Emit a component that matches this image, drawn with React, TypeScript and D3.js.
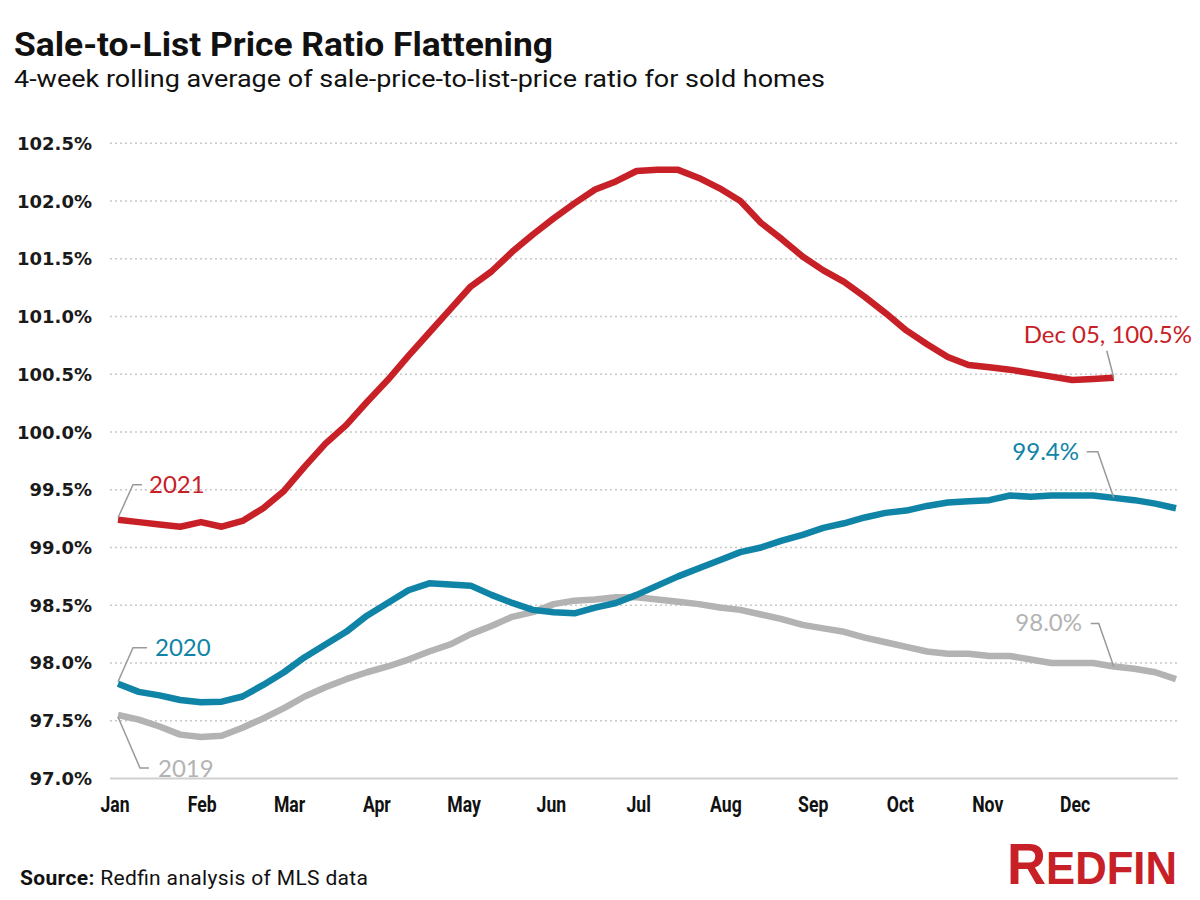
import React from "react";
import * as d3 from "d3";

const W = 1200;
const H = 900;

const startDate = new Date(2021, 0, 3);
const values2021 = [
  99.24, 99.22, 99.2, 99.18, 99.22, 99.18, 99.23, 99.34, 99.49, 99.7, 99.9, 100.06, 100.26,
  100.45, 100.66, 100.86, 101.06, 101.26, 101.39, 101.56, 101.71, 101.85, 101.98, 102.1, 102.17,
  102.26, 102.27, 102.27, 102.2, 102.11, 102.0, 101.81, 101.67, 101.52, 101.4, 101.3, 101.17,
  101.03, 100.88, 100.76, 100.65, 100.58, 100.56, 100.54, 100.51, 100.48, 100.45, 100.46, 100.47,
];
const values2020 = [
  97.82, 97.75, 97.72, 97.68, 97.66, 97.665, 97.71, 97.81, 97.92, 98.05, 98.16, 98.27, 98.41,
  98.52, 98.63, 98.69, 98.68, 98.67, 98.59, 98.52, 98.46, 98.44, 98.43, 98.48, 98.52, 98.59,
  98.67, 98.75, 98.82, 98.89, 98.96, 99.0, 99.06, 99.11, 99.17, 99.21, 99.26, 99.3, 99.32, 99.36,
  99.39, 99.4, 99.41, 99.45, 99.44, 99.45, 99.45, 99.45, 99.43, 99.41, 99.38, 99.34,
];
const values2019 = [
  97.55, 97.51, 97.45, 97.38, 97.36, 97.37, 97.44, 97.52, 97.61, 97.71, 97.79, 97.86, 97.92,
  97.97, 98.03, 98.1, 98.16, 98.25, 98.32, 98.4, 98.44, 98.51, 98.54, 98.55, 98.57, 98.57, 98.55,
  98.53, 98.51, 98.48, 98.46, 98.42, 98.38, 98.33, 98.3, 98.27, 98.22, 98.18, 98.14, 98.1, 98.08,
  98.08, 98.06, 98.06, 98.03, 98.0, 98.0, 98.0, 97.97, 97.95, 97.92, 97.86,
];
const yTicks = [97.0, 97.5, 98.0, 98.5, 99.0, 99.5, 100.0, 100.5, 101.0, 101.5, 102.0, 102.5];
const monthLabels = ["Jan", "Feb", "Mar", "Apr", "May", "Jun", "Jul", "Aug", "Sep", "Oct", "Nov", "Dec"];
const seriesNames = ["2019", "2020", "2021"];
const colors = { "2019": "#b3b3b3", "2020": "#0f84a6", "2021": "#c82027" };

const dateOf = (i: number) => d3.timeDay.offset(startDate, i * 7);

export default function App() {
  const x = d3
    .scaleTime()
    .domain([dateOf(0), dateOf(51)])
    .range([118, 1176]);
  const y = d3.scaleLinear().domain([97, 102.5]).range([778.5, 143.3]);
  const xm = d3.scalePoint<string>().domain(monthLabels).range([115, 1075]);
  const line = d3
    .line<number>()
    .x((_, i) => x(dateOf(i)))
    .y((d) => y(d));
  const data: Record<string, number[]> = { "2019": values2019, "2020": values2020, "2021": values2021 };

  const last21 = values2021.length - 1;
  const p21 = [x(dateOf(last21)), y(values2021[last21])];
  const p20 = [x(dateOf(last21)), y(values2020[last21])];
  const p19 = [x(dateOf(last21)), y(values2019[last21])];
  const s21 = [x(dateOf(0)), y(values2021[0])];
  const s20 = [x(dateOf(0)), y(values2020[0])];
  const s19 = [x(dateOf(0)), y(values2019[0])];
  const pct = (v: number) => d3.format(".1f")(v) + "%";
  const labelFont = "Lato, 'Open Sans', sans-serif";

  return (
    <svg width={W} height={H} style={{ display: "block", position: "absolute", left: 0, top: 0 }}>
      <rect width={W} height={H} fill="#fff" />
      <text
        x={14}
        y={56}
        fontFamily="'Roboto', sans-serif"
        fontWeight="bold"
        fontSize={33}
        fill="#111"
        textLength={539}
        lengthAdjust="spacingAndGlyphs"
      >
        Sale-to-List Price Ratio Flattening
      </text>
      <text
        x={14}
        y={87}
        fontFamily="'Roboto', sans-serif"
        fontSize={23}
        fill="#111"
        textLength={811}
        lengthAdjust="spacingAndGlyphs"
      >
        4-week rolling average of sale-price-to-list-price ratio for sold homes
      </text>

      {yTicks.map((t) => (
        <g key={t}>
          {t > 97 && (
            <line
              x1={110}
              x2={1178}
              y1={y(t)}
              y2={y(t)}
              stroke="#c8c8c8"
              strokeWidth={1.5}
              strokeDasharray="2,3"
            />
          )}
          <text
            x={92}
            y={y(t)}
            dy="0.36em"
            textAnchor="end"
            fontFamily="'DejaVu Sans', sans-serif"
            fontWeight="bold"
            fontSize={18}
            fill="#1a1a1a"
          >
            {pct(t)}
          </text>
        </g>
      ))}
      <line x1={110} x2={1178} y1={y(97)} y2={y(97)} stroke="#d0d0d0" strokeWidth={2} />

      {monthLabels.map((m) => (
        <text
          key={m}
          transform={`translate(${xm(m)},812) scale(0.8,1)`}
          textAnchor="middle"
          fontFamily="'Roboto', sans-serif"
          fontWeight="bold"
          fontSize={22}
          fill="#111"
        >
          {m}
        </text>
      ))}

      {seriesNames.map((s) => (
        <path
          key={s}
          d={line(data[s]) || ""}
          fill="none"
          stroke={(colors as any)[s]}
          strokeWidth={6.5}
          strokeLinejoin="round"
        />
      ))}

      {/* start labels */}
      <polyline
        points={`${s21[0]},${s21[1] - 2} ${s21[0] + 15},${s21[1] - 35} ${s21[0] + 24},${s21[1] - 35}`}
        fill="none"
        stroke="#999"
        strokeWidth={1.5}
      />
      <text x={149} y={493} fontFamily={labelFont} fontSize={24} fill={colors["2021"]}>
        2021
      </text>
      <polyline
        points={`${s20[0]},${s20[1] - 2} ${s20[0] + 15},${s20[1] - 36} ${s20[0] + 29},${s20[1] - 36}`}
        fill="none"
        stroke="#999"
        strokeWidth={1.5}
      />
      <text x={155} y={656} fontFamily={labelFont} fontSize={24} fill={colors["2020"]}>
        2020
      </text>
      <polyline
        points={`${s19[0]},${s19[1] + 2} ${s19[0] + 22},${s19[1] + 53} ${s19[0] + 31},${s19[1] + 53}`}
        fill="none"
        stroke="#999"
        strokeWidth={1.5}
      />
      <text x={158} y={777} fontFamily={labelFont} fontSize={24} fill={colors["2019"]}>
        2019
      </text>

      {/* end labels */}
      <polyline
        points={`${p21[0] - 7},${p21[1] - 27} ${p21[0]},${p21[1]}`}
        fill="none"
        stroke="#999"
        strokeWidth={1.5}
      />
      <text x={1192} y={343} textAnchor="end" fontFamily={labelFont} fontSize={24} fill={colors["2021"]}>
        {"Dec 05, " + pct(values2021[last21])}
      </text>
      <polyline
        points={`${p20[0] - 27},${p20[1] - 46} ${p20[0] - 16},${p20[1] - 46} ${p20[0]},${p20[1]}`}
        fill="none"
        stroke="#999"
        strokeWidth={1.5}
      />
      <text x={1079} y={460} textAnchor="end" fontFamily={labelFont} fontSize={24} fill={colors["2020"]}>
        {pct(values2020[last21])}
      </text>
      <polyline
        points={`${p19[0] - 23},${p19[1] - 43} ${p19[0] - 15},${p19[1] - 43} ${p19[0]},${p19[1]}`}
        fill="none"
        stroke="#999"
        strokeWidth={1.5}
      />
      <text x={1082} y={631} textAnchor="end" fontFamily={labelFont} fontSize={24} fill={colors["2019"]}>
        {pct(values2019[last21])}
      </text>

      {/* footer */}
      <text x={20} y={885} fontFamily="Roboto, sans-serif" fontSize={21} fill="#111" textLength={348} lengthAdjust="spacing">
        <tspan fontWeight="bold">Source:</tspan>
        <tspan> Redfin analysis of MLS data</tspan>
      </text>
      <text
        x={1007}
        y={884}
        fontFamily="'Liberation Sans', Arial, sans-serif"
        fontWeight="bold"
        fill="#c82027"
        textLength={170}
        lengthAdjust="spacingAndGlyphs"
      >
        <tspan fontSize={57}>R</tspan>
        <tspan fontSize={46}>EDFIN</tspan>
      </text>
    </svg>
  );
}
